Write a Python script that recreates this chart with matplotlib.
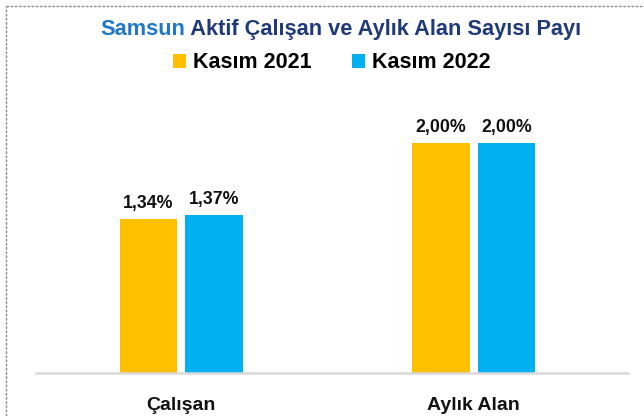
import matplotlib
matplotlib.use("Agg")
import matplotlib.pyplot as plt
from matplotlib.patches import Patch
from matplotlib.lines import Line2D
import numpy as np

categories = ["Çalışan", "Aylık Alan"]
series_names = ["Kasım 2021", "Kasım 2022"]
values_2021 = [1.34, 2.00]
values_2022 = [1.37, 2.00]
labels_2021 = ["1,34%", "2,00%"]
labels_2022 = ["1,37%", "2,00%"]
title_part1 = "Samsun"
title_part2 = " Aktif Çalışan ve Aylık Alan Sayısı Payı"

YELLOW = "#FFC000"
BLUE = "#00B0F0"
FONT = ["Liberation Sans", "DejaVu Sans"]
plt.rcParams["font.family"] = FONT

W, H = 644, 416
fig = plt.figure(figsize=(W / 100, H / 100), dpi=100)
fig.patch.set_facecolor("white")

ax_left, ax_right, ax_bottom, ax_top = 36, 628, 373, 80
ax = fig.add_axes([ax_left / W, 1 - ax_bottom / H, (ax_right - ax_left) / W, (ax_bottom - ax_top) / H])

x = np.arange(len(categories))
bw = 0.197
off = 0.112
b1 = ax.bar(x - off, values_2021, bw, color=YELLOW, label=series_names[0])
b2 = ax.bar(x + off, values_2022, bw, color=BLUE, label=series_names[1])

for bars, labs in ((b1, labels_2021), (b2, labels_2022)):
    for rect, lab in zip(bars, labs):
        ax.annotate(lab, xy=(rect.get_x() + rect.get_width() / 2, rect.get_height()),
                    xytext=(0, 8), textcoords="offset points", ha="center", va="baseline",
                    fontsize=12.8, fontweight="bold", color="#111111")

for i, c in enumerate(categories):
    ax.annotate(c, xy=(i, 0), xycoords=("data", "axes fraction"), xytext=(0, -27),
                textcoords="offset points", ha="center", va="baseline",
                fontsize=14, fontweight="bold", color="#111111", annotation_clip=False)

ax.set_xlim(-0.497, 1.527)
ax.set_ylim(0, 2.548)
for s in ("top", "right", "left"):
    ax.spines[s].set_visible(False)
ax.spines["bottom"].set_color("#D9D9D9")
ax.spines["bottom"].set_linewidth(1.8)
ax.set_xticks([])
ax.set_yticks([])
ax.patch.set_alpha(0)

# Title in two colours
t1 = fig.text(100 / W, 1 - 35 / H, title_part1, fontsize=15.7, fontweight="bold",
              color="#1F78C8", ha="left", va="baseline")
fig.canvas.draw()
r = fig.canvas.get_renderer()
bb = t1.get_window_extent(renderer=r)
fig.text(bb.x1 / W, 1 - 35 / H, title_part2, fontsize=15.7, fontweight="bold",
         color="#1F3A78", ha="left", va="baseline")

# Legend
handles = [Patch(facecolor=YELLOW), Patch(facecolor=BLUE)]
leg = fig.legend(handles, series_names, loc="center", bbox_to_anchor=(332 / W, 1 - 63 / H),
                 ncol=2, frameon=False, prop={"size": 15.5, "weight": "bold"},
                 handlelength=0.6, handleheight=0.6, handletextpad=0.33,
                 columnspacing=1.86, borderpad=0, borderaxespad=0)

# Frame lines (top and left border of the picture)
fig.add_artist(Line2D([6 / W, 1.0], [1 - 6 / H, 1 - 6 / H], transform=fig.transFigure,
                      color="#8C8C8C", linewidth=1.0, linestyle=(0, (2, 1))))
fig.add_artist(Line2D([6 / W, 6 / W], [0, 1 - 6 / H], transform=fig.transFigure,
                      color="#8C8C8C", linewidth=1.0, linestyle=(0, (2, 1))))

fig.savefig("out.png", dpi=100)
